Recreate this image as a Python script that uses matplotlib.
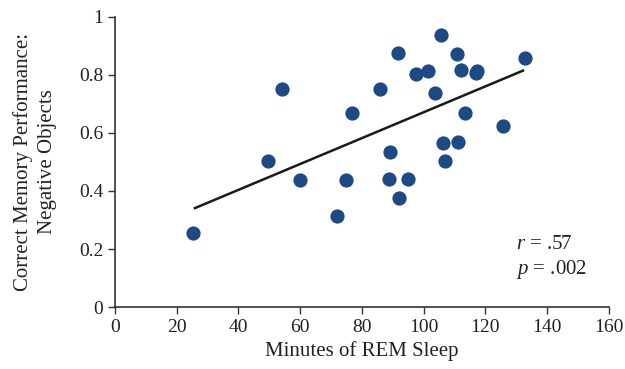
import matplotlib
matplotlib.use("Agg")
import matplotlib.pyplot as plt

# Minutes of REM sleep vs. correct memory performance (negative objects)
rem_minutes = [25.3, 49.5, 54.1, 59.9, 71.9, 74.7, 76.8, 85.9, 88.7, 89.1,
               91.6, 91.9, 94.8, 97.6, 101.4, 103.6, 105.8, 106.3, 107.0,
               110.7, 111.2, 112.1, 113.4, 116.9, 117.3, 125.8, 133.0]
memory_perf = [0.255, 0.503, 0.752, 0.438, 0.314, 0.438, 0.670, 0.751, 0.441,
               0.536, 0.875, 0.376, 0.441, 0.802, 0.813, 0.737, 0.939, 0.564,
               0.502, 0.871, 0.570, 0.817, 0.669, 0.806, 0.815, 0.625, 0.857]

# regression line endpoints
fit_x = [25.9, 132.2]
fit_y = [0.341, 0.815]

dot_color = '#1d4a85'
axis_color = '#333333'
text_color = '#222222'

plt.rcParams['font.family'] = ['Liberation Serif', 'DejaVu Serif']
plt.rcParams['mathtext.fontset'] = 'custom'
plt.rcParams['mathtext.it'] = 'Liberation Serif:italic'
plt.rcParams['mathtext.rm'] = 'Liberation Serif'

fig = plt.figure(figsize=(6.25, 3.69), dpi=100)
ax = fig.add_axes([0.184, 0.168, 0.79, 0.786])

ax.scatter(rem_minutes, memory_perf, s=105, color=dot_color, zorder=3, linewidths=0)
ax.plot(fit_x, fit_y, color='#1a1a1a', linewidth=1.8, zorder=2)

ax.set_xlim(0, 160)
ax.set_ylim(0, 1)
ax.set_xticks(range(0, 161, 20))
ax.set_yticks([0, 0.2, 0.4, 0.6, 0.8, 1.0])
ax.set_yticklabels(['0', '0.2', '0.4', '0.6', '0.8', '1'])

ax.tick_params(axis='both', labelsize=14, color=axis_color, direction='out',
               length=5, width=1, labelcolor=text_color)
for side in ['top', 'right']:
    ax.spines[side].set_visible(False)
for side in ['left', 'bottom']:
    ax.spines[side].set_color(axis_color)
    ax.spines[side].set_linewidth(1.2)

ax.set_xlabel('Minutes of REM Sleep', fontsize=15, color=text_color, labelpad=4)
ax.set_ylabel('Correct Memory Performance:\nNegative Objects', fontsize=15,
              color=text_color, linespacing=1.35, labelpad=16)

ax.text(0.812, 0.20, r'$r$ = .57', transform=ax.transAxes, fontsize=15,
        color=text_color)
ax.text(0.812, 0.115, r'$p$ = .002', transform=ax.transAxes, fontsize=15,
        color=text_color)

fig.savefig('out.png', dpi=100, facecolor='white')
plt.close(fig)
